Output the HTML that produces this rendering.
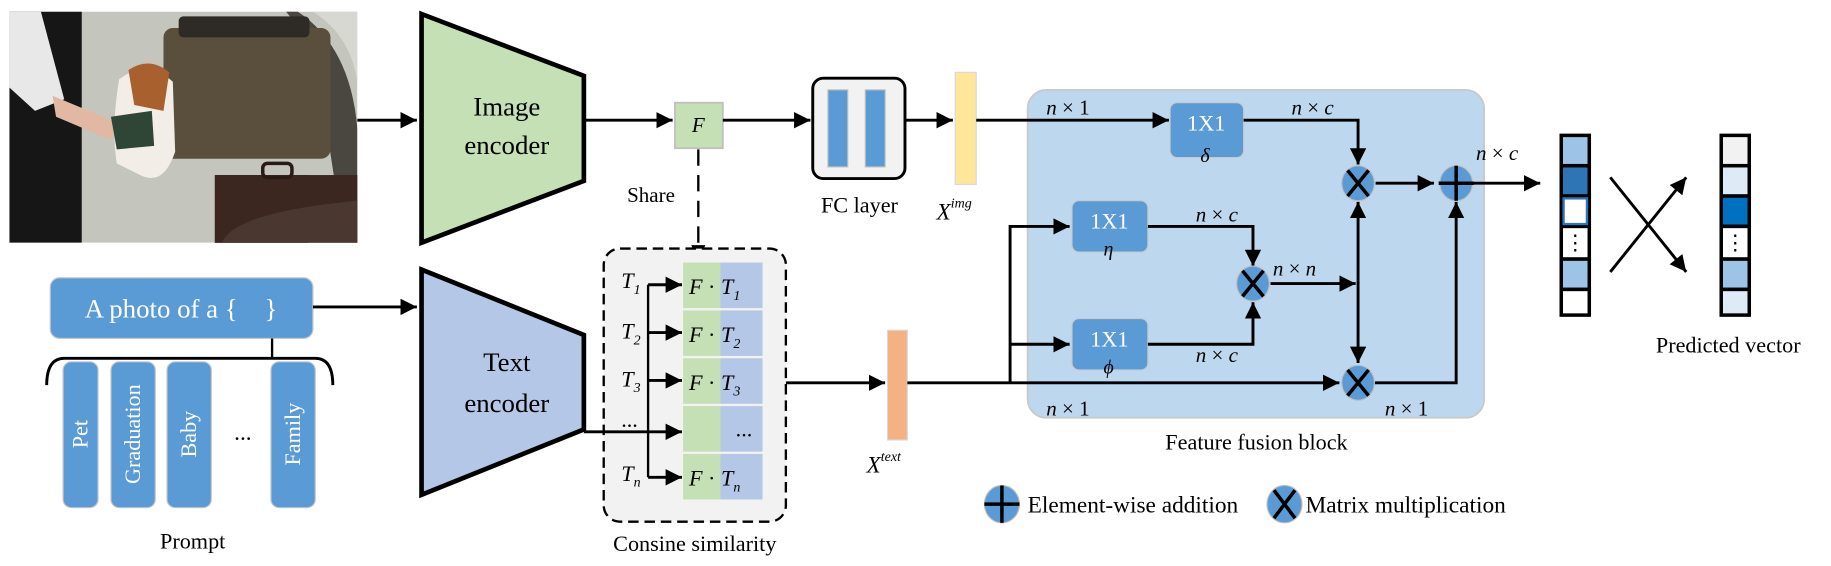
<!DOCTYPE html>
<html><head><meta charset="utf-8"><style>
html,body{margin:0;padding:0;background:#fff;}
svg{display:block;}
text{font-family:"Liberation Serif",serif;}
.it{font-style:italic;}
</style></head><body>
<svg width="1831" height="566" viewBox="0 0 1568 485" preserveAspectRatio="none" xmlns="http://www.w3.org/2000/svg">
<defs>
<marker id="b" viewBox="0 0 10 10" markerWidth="14" markerHeight="14" refX="10" refY="5" orient="auto" markerUnits="userSpaceOnUse"><path d="M0,0 L10,5 L0,10 Z" fill="#000"/></marker>
<clipPath id="ph"><rect x="8" y="10" width="298" height="198"/></clipPath>
</defs>
<!-- photo -->
<g clip-path="url(#ph)">
<rect x="8" y="10" width="298" height="198" fill="#c4c6bd"/>
<path d="M255,10 Q300,40 306,110 L306,208 L292,190 L275,80 Q262,30 245,10Z" fill="#4a4640"/>
<path d="M268,10 Q300,30 306,70 L306,10Z" fill="#d8d8d2"/>
<rect x="140" y="24" width="143" height="112" rx="8" fill="#5a4f3c"/>
<rect x="153" y="14" width="112" height="18" rx="4" fill="#2e2a26"/>
<rect x="184" y="150" width="128" height="72" fill="#3b2620"/>
<rect x="184" y="150" width="80" height="60" fill="#3b2620"/>
<rect x="225" y="140" width="25" height="12" rx="4" fill="none" stroke="#2a1a15" stroke-width="3"/>
<path d="M190,208 Q200,182 306,172 L306,208Z" fill="#4a3830"/>
<rect x="8" y="10" width="62" height="198" fill="#161616"/>
<path d="M8,10 L35,10 L55,85 L30,95 L8,75Z" fill="#e8e8e8"/>
<path d="M45,82 L100,105 L95,120 L48,100Z" fill="#e2b7a4"/>
<path d="M102,68 Q125,50 148,70 L150,130 Q140,160 120,150 L100,140 Q95,110 102,68Z" fill="#f2ede6"/>
<path d="M110,60 Q128,48 145,62 L140,95 L115,90Z" fill="#a8602e"/>
<path d="M95,100 L130,95 L132,125 L100,128Z" fill="#2f4535"/>
</g>
<line x1="306" y1="103" x2="357" y2="103" stroke="#000" stroke-width="2.5" marker-end="url(#b)"/>
<!-- image encoder -->
<path d="M361,12 L500,65 L500,155 L361,208 Z" fill="#c5e0b4" stroke="#000" stroke-width="4"/>
<text x="434" y="99" font-size="23" text-anchor="middle">Image</text>
<text x="434" y="132" font-size="23" text-anchor="middle">encoder</text>
<line x1="500" y1="103" x2="576" y2="103" stroke="#000" stroke-width="2.5" marker-end="url(#b)"/>
<rect x="578" y="88" width="41" height="39" fill="#c5e0b4" stroke="#bfbfbf" stroke-width="1.5"/>
<text x="598" y="113" font-size="18" class="it" text-anchor="middle">F</text>
<line x1="619" y1="103" x2="694" y2="103" stroke="#000" stroke-width="2.5" marker-end="url(#b)"/>
<rect x="696" y="67" width="79" height="86" rx="9" fill="#f2f2f2" stroke="#000" stroke-width="2.5"/>
<rect x="709" y="77" width="17" height="66" fill="#5b9bd5" stroke="#bfbfbf"/>
<rect x="741" y="77" width="17" height="66" fill="#5b9bd5" stroke="#bfbfbf"/>
<text x="736" y="182" font-size="19" text-anchor="middle">FC layer</text>
<line x1="775" y1="103" x2="816" y2="103" stroke="#000" stroke-width="2.5" marker-end="url(#b)"/>
<rect x="818" y="62" width="18" height="96" fill="#ffe699" stroke="#d9d9d9"/>
<text x="802" y="188" font-size="20" class="it">X<tspan font-size="12" dy="-10">img</tspan></text>
<!-- share -->
<line x1="598" y1="128" x2="598" y2="212" stroke="#000" stroke-width="2" stroke-dasharray="14,8"/>
<path d="M592,210 L604,210 L598,225 Z" fill="#000"/>
<text x="537" y="173" font-size="18">Share</text>
<!-- fusion block -->
<rect x="880" y="77" width="391" height="281" rx="16" fill="#bdd7ee" stroke="#c9c9c9" stroke-width="1.5"/>
<line x1="836" y1="103" x2="1001" y2="103" stroke="#000" stroke-width="2.5" marker-end="url(#b)"/>
<rect x="1002" y="88" width="63" height="47" rx="6" fill="#5b9bd5" stroke="#c9c9c9"/>
<text x="1033" y="112" font-size="19" fill="#fff" text-anchor="middle" font-family="Liberation Sans">1X1</text>
<text x="1028" y="139" font-size="17" class="it">δ</text>
<text x="896" y="98" font-size="18" class="it">n <tspan font-style="normal">× 1</tspan></text>
<text x="1106" y="98" font-size="18" class="it">n <tspan font-style="normal">×</tspan> c</text>
<polyline points="1065,103 1163,103 1163,141" fill="none" stroke="#000" stroke-width="2.5" marker-end="url(#b)"/>
<rect x="918" y="172" width="65" height="44" rx="6" fill="#5b9bd5" stroke="#c9c9c9"/>
<text x="950" y="196" font-size="19" fill="#fff" text-anchor="middle" font-family="Liberation Sans">1X1</text>
<text x="945" y="219" font-size="17" class="it">η</text>
<rect x="918" y="273" width="65" height="44" rx="6" fill="#5b9bd5" stroke="#c9c9c9"/>
<text x="950" y="297" font-size="19" fill="#fff" text-anchor="middle" font-family="Liberation Sans">1X1</text>
<text x="945" y="320" font-size="17" class="it">ϕ</text>
<polyline points="865,328 865,194 916,194" fill="none" stroke="#000" stroke-width="2.5" marker-end="url(#b)"/>
<line x1="865" y1="295" x2="916" y2="295" stroke="#000" stroke-width="2.5" marker-end="url(#b)"/>
<polyline points="983,194 1073,194 1073,228" fill="none" stroke="#000" stroke-width="2.5" marker-end="url(#b)"/>
<polyline points="983,295 1073,295 1073,259" fill="none" stroke="#000" stroke-width="2.5" marker-end="url(#b)"/>
<text x="1024" y="190" font-size="18" class="it">n <tspan font-style="normal">×</tspan> c</text>
<text x="1024" y="310" font-size="18" class="it">n <tspan font-style="normal">×</tspan> c</text>
<text x="1090" y="236" font-size="18" class="it">n <tspan font-style="normal">×</tspan> n</text>
<line x1="1088" y1="243" x2="1161" y2="243" stroke="#000" stroke-width="2.5" marker-end="url(#b)"/>
<line x1="1163" y1="240" x2="1163" y2="173" stroke="#000" stroke-width="2.5" marker-end="url(#b)"/>
<line x1="1163" y1="240" x2="1163" y2="311" stroke="#000" stroke-width="2.5" marker-end="url(#b)"/>
<line x1="673" y1="328" x2="758" y2="328" stroke="#000" stroke-width="2.5" marker-end="url(#b)"/>
<rect x="760" y="283" width="17" height="94" fill="#f4b183" stroke="#d9d9d9"/>
<text x="742" y="405" font-size="20" class="it">X<tspan font-size="12" dy="-10">text</tspan></text>
<line x1="777" y1="328" x2="1147" y2="328" stroke="#000" stroke-width="2.5" marker-end="url(#b)"/>
<polyline points="1177,328 1247,328 1247,173" fill="none" stroke="#000" stroke-width="2.5" marker-end="url(#b)"/>
<line x1="1178" y1="157" x2="1228" y2="157" stroke="#000" stroke-width="2.5" marker-end="url(#b)"/>
<line x1="1247" y1="157" x2="1319" y2="157" stroke="#000" stroke-width="2.5" marker-end="url(#b)"/>
<text x="896" y="356" font-size="18" class="it">n <tspan font-style="normal">× 1</tspan></text>
<text x="1186" y="356" font-size="18" class="it">n <tspan font-style="normal">× 1</tspan></text>
<text x="1264" y="137" font-size="18" class="it">n <tspan font-style="normal">×</tspan> c</text>
<text x="1076" y="385" font-size="19" text-anchor="middle">Feature fusion block</text>
<g stroke="#000" stroke-width="3">
<ellipse cx="1163" cy="157" rx="14" ry="15" fill="#5b9bd5" stroke="#bfbfbf" stroke-width="1"/>
<path d="M1154,146 L1172,168 M1172,146 L1154,168"/>
<ellipse cx="1073" cy="243" rx="14" ry="15" fill="#5b9bd5" stroke="#bfbfbf" stroke-width="1"/>
<path d="M1064,232 L1082,254 M1082,232 L1064,254"/>
<ellipse cx="1163" cy="328" rx="14" ry="15" fill="#5b9bd5" stroke="#bfbfbf" stroke-width="1"/>
<path d="M1154,317 L1172,339 M1172,317 L1154,339"/>
<ellipse cx="1247" cy="157" rx="14" ry="15" fill="#5b9bd5" stroke="#bfbfbf" stroke-width="1"/>
<path d="M1247,142 L1247,172 M1232,157 L1262,157"/>
<ellipse cx="858" cy="432" rx="15" ry="16" fill="#5b9bd5" stroke="#bfbfbf" stroke-width="1"/>
<path d="M858,416 L858,448 M843,432 L873,432"/>
<ellipse cx="1100" cy="432" rx="15" ry="16" fill="#5b9bd5" stroke="#bfbfbf" stroke-width="1"/>
<path d="M1091,420 L1109,444 M1109,420 L1091,444"/>
</g>
<text x="880" y="439" font-size="20">Element-wise addition</text>
<text x="1118" y="439" font-size="20">Matrix multiplication</text>
<g stroke="#000" stroke-width="3">
<rect x="1337" y="116" width="24" height="26" fill="#9dc3e6"/>
<rect x="1337" y="142" width="24" height="26" fill="#2e75b6"/>
<rect x="1337" y="168" width="24" height="26" fill="#fff"/>
<rect x="1337" y="194" width="24" height="28" fill="#fff"/>
<rect x="1337" y="222" width="24" height="26" fill="#9dc3e6"/>
<rect x="1337" y="248" width="24" height="22" fill="#fff"/>
<rect x="1474" y="116" width="24" height="26" fill="#f2f2f2"/>
<rect x="1474" y="142" width="24" height="26" fill="#deebf7"/>
<rect x="1474" y="168" width="24" height="26" fill="#0070c0"/>
<rect x="1474" y="194" width="24" height="28" fill="#fff"/>
<rect x="1474" y="222" width="24" height="26" fill="#9dc3e6"/>
<rect x="1474" y="248" width="24" height="22" fill="#deebf7"/>
</g>
<rect x="1339" y="170" width="20" height="22" fill="#fff" stroke="#2e75b6" stroke-width="2"/>
<text x="1349" y="214" font-size="18" text-anchor="middle">⋮</text>
<text x="1486" y="214" font-size="18" text-anchor="middle">⋮</text>
<line x1="1379" y1="152" x2="1444" y2="233" stroke="#000" stroke-width="2.5" marker-end="url(#b)"/>
<line x1="1379" y1="233" x2="1444" y2="152" stroke="#000" stroke-width="2.5" marker-end="url(#b)"/>
<text x="1480" y="302" font-size="19" text-anchor="middle">Predicted vector</text>
<!-- prompt -->
<rect x="43" y="238" width="225" height="52" rx="8" fill="#5b9bd5" stroke="#c9c9c9"/>
<text x="155" y="272" font-size="23" fill="#fff" text-anchor="middle">A photo of a {&#160;&#160;&#160;&#160;}</text>
<line x1="268" y1="263" x2="357" y2="263" stroke="#000" stroke-width="2.5" marker-end="url(#b)"/>
<line x1="233" y1="290" x2="233" y2="307" stroke="#000" stroke-width="2"/>
<path d="M40,330 Q40,307 55,307 L270,307 Q285,307 285,330" fill="none" stroke="#000" stroke-width="2.5"/>
<g fill="#5b9bd5" stroke="#c9c9c9">
<rect x="54" y="310" width="30" height="125" rx="7"/>
<rect x="95" y="310" width="38" height="125" rx="7"/>
<rect x="143" y="310" width="38" height="125" rx="7"/>
<rect x="232" y="310" width="38" height="125" rx="7"/>
</g>
<g fill="#fff" font-size="19" text-anchor="middle">
<text transform="translate(75,372) rotate(-90)">Pet</text>
<text transform="translate(120,372) rotate(-90)">Graduation</text>
<text transform="translate(168,372) rotate(-90)">Baby</text>
<text transform="translate(257,372) rotate(-90)">Family</text>
</g>
<text x="208" y="377" font-size="20" text-anchor="middle">...</text>
<text x="165" y="470" font-size="19" text-anchor="middle">Prompt</text>
<!-- text encoder -->
<path d="M361,231 L500,287 L500,368 L361,424 Z" fill="#b4c7e7" stroke="#000" stroke-width="4"/>
<text x="434" y="318" font-size="23" text-anchor="middle">Text</text>
<text x="434" y="353" font-size="23" text-anchor="middle">encoder</text>
<!-- cosine -->
<rect x="517" y="213" width="156" height="234" rx="14" fill="#f2f2f2" stroke="#000" stroke-width="2" stroke-dasharray="9,5"/>
<g>
<rect x="585" y="225" width="32" height="39" fill="#c5e0b4"/><rect x="617" y="225" width="36" height="39" fill="#b4c7e7"/>
<rect x="585" y="266" width="32" height="39" fill="#c5e0b4"/><rect x="617" y="266" width="36" height="39" fill="#b4c7e7"/>
<rect x="585" y="307" width="32" height="39" fill="#c5e0b4"/><rect x="617" y="307" width="36" height="39" fill="#b4c7e7"/>
<rect x="585" y="348" width="32" height="39" fill="#c5e0b4"/><rect x="617" y="348" width="36" height="39" fill="#b4c7e7"/>
<rect x="585" y="389" width="32" height="39" fill="#c5e0b4"/><rect x="617" y="389" width="36" height="39" fill="#b4c7e7"/>
</g>
<g font-size="19" class="it">
<text x="590" y="252">F <tspan font-style="normal">·</tspan> T<tspan font-size="12" dy="5">1</tspan></text>
<text x="590" y="293">F <tspan font-style="normal">·</tspan> T<tspan font-size="12" dy="5">2</tspan></text>
<text x="590" y="334">F <tspan font-style="normal">·</tspan> T<tspan font-size="12" dy="5">3</tspan></text>
<text x="630" y="374" font-style="normal">...</text>
<text x="590" y="416">F <tspan font-style="normal">·</tspan> T<tspan font-size="12" dy="5">n</tspan></text>
<text x="532" y="247">T<tspan font-size="12" dy="5">1</tspan></text>
<text x="532" y="290">T<tspan font-size="12" dy="5">2</tspan></text>
<text x="532" y="331">T<tspan font-size="12" dy="5">3</tspan></text>
<text x="532" y="366" font-style="normal">...</text>
<text x="532" y="412">T<tspan font-size="12" dy="5">n</tspan></text>
</g>
<line x1="555" y1="244" x2="555" y2="409" stroke="#000" stroke-width="2"/>
<g stroke="#000" stroke-width="2.5">
<line x1="555" y1="244" x2="584" y2="244" marker-end="url(#b)"/>
<line x1="555" y1="285" x2="584" y2="285" marker-end="url(#b)"/>
<line x1="555" y1="326" x2="584" y2="326" marker-end="url(#b)"/>
<line x1="500" y1="370" x2="584" y2="370" marker-end="url(#b)"/>
<line x1="555" y1="409" x2="584" y2="409" marker-end="url(#b)"/>
</g>
<text x="595" y="472" font-size="19" text-anchor="middle">Consine similarity</text>
</svg>
</body></html>
